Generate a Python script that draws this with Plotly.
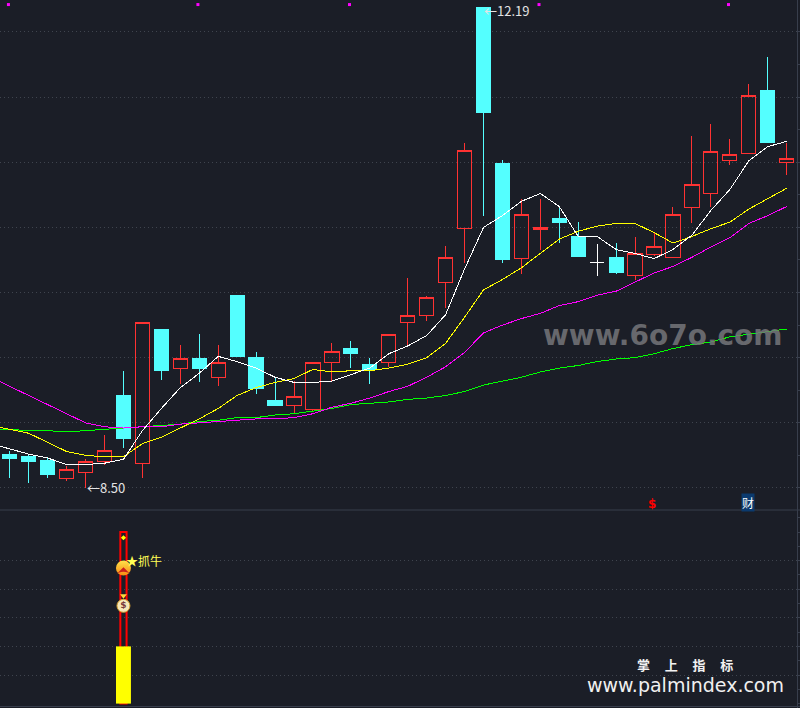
import plotly.graph_objects as go

# Daily candles (index 0..41), prices
opens = [8.76,8.74,8.71,8.57,8.62,8.70,9.21,8.69,9.72,9.42,
         9.49,9.35,9.98,9.50,9.17,9.13,9.10,9.46,9.57,9.45,
         9.46,9.77,9.82,10.08,10.49,12.19,10.99,10.26,10.48,10.57,
         10.43,10.23,10.27,10.13,10.29,10.27,10.65,10.76,11.01,11.07,11.55,11.00]
closes = [8.73,8.70,8.60,8.64,8.70,8.79,8.88,9.77,9.40,9.49,
          9.42,9.46,9.51,9.26,9.13,9.20,9.46,9.55,9.53,9.41,
          9.68,9.82,9.96,10.27,11.09,11.38,10.25,10.60,10.50,10.54,
          10.28,10.23,10.15,10.30,10.35,10.60,10.83,11.08,11.06,11.51,11.15,11.03]
highs = [8.78,8.76,8.73,8.67,8.72,8.91,9.40,9.77,9.72,9.60,
         9.68,9.60,9.98,9.54,9.35,9.32,9.47,9.61,9.63,9.50,
         9.68,10.11,9.97,10.36,11.15,12.19,11.02,10.72,10.72,10.66,
         10.54,10.37,10.38,10.43,10.46,10.66,11.20,11.29,11.18,11.60,11.81,11.15]
lows = [8.58,8.54,8.58,8.55,8.50,8.68,8.81,8.58,9.33,9.30,
        9.31,9.28,9.51,9.22,9.13,9.07,9.08,9.32,9.42,9.30,
        9.43,9.60,9.78,9.88,10.23,10.59,10.23,10.14,10.33,10.38,
        10.27,10.13,10.14,10.10,10.28,10.27,10.53,10.66,10.98,11.07,11.15,10.90]

# Moving averages, index -1..41
ma5 = [8.84,8.80,8.76,8.73,8.68,8.68,8.69,8.72,8.94,9.11,9.27,
       9.38,9.51,9.47,9.42,9.35,9.31,9.31,9.32,9.37,9.42,
       9.53,9.59,9.67,9.83,10.18,10.50,10.59,10.70,10.76,10.66,
       10.43,10.43,10.33,10.30,10.26,10.33,10.44,10.63,10.79,11.01,11.12,11.16]
ma10 = [8.98,8.95,8.92,8.85,8.78,8.75,8.74,8.74,8.84,8.89,8.96,
        9.03,9.11,9.21,9.27,9.31,9.34,9.41,9.39,9.40,9.40,
        9.42,9.45,9.50,9.61,9.81,10.02,10.10,10.19,10.30,10.41,
        10.47,10.51,10.53,10.53,10.46,10.38,10.43,10.49,10.54,10.64,10.72,10.80]
ma20 = [9.35,9.28,9.21,9.14,9.07,9.00,8.97,8.96,8.97,8.97,8.99,
        9.00,9.01,9.02,9.03,9.03,9.04,9.07,9.12,9.15,9.19,
        9.24,9.28,9.35,9.43,9.54,9.69,9.75,9.80,9.84,9.90,
        9.93,9.98,10.01,10.08,10.15,10.20,10.27,10.35,10.42,10.53,10.59,10.66]
ma60 = [8.95,8.95,8.94,8.94,8.93,8.94,8.95,8.96,8.97,8.98,8.99,
        9.01,9.02,9.04,9.04,9.06,9.07,9.09,9.11,9.14,9.15,
        9.16,9.18,9.19,9.21,9.24,9.29,9.32,9.35,9.39,9.42,
        9.44,9.47,9.49,9.50,9.53,9.57,9.60,9.62,9.66,9.68,9.70,9.72]

marker_days = [0, 10, 18, 28, 38]
signal_day = 6
signal_outer = 6.0
signal_inner = 2.0
signal_dot = 5.8
signal_arrow = 4.74
signal_bag = 3.45
signal_label = "★抓牛"
low_label = "←8.50"
high_label = "←12.19"

BG = "#1b1e27"
GRID = "#3f444e"
AXIS = "#383e4c"
RED = "#ff3232"
CYAN = "#54ffff"
days = list(range(len(opens)))
ma_days = list(range(-1, len(opens)))
doji = [i for i in days if opens[i] == closes[i]]
body = [i for i in days if opens[i] != closes[i]]

fig = go.Figure()
pick = lambda arr, idx: [arr[i] for i in idx]
fig.add_trace(go.Candlestick(
    x=body, open=pick(opens, body), high=pick(highs, body), low=pick(lows, body), close=pick(closes, body),
    whiskerwidth=0,
    increasing=dict(line=dict(color=RED, width=1), fillcolor="rgba(0,0,0,0)"),
    decreasing=dict(line=dict(color=CYAN, width=1), fillcolor=CYAN),
    showlegend=False, xaxis="x", yaxis="y"))
fig.add_trace(go.Candlestick(
    x=doji, open=pick(opens, doji), high=pick(highs, doji), low=pick(lows, doji), close=pick(closes, doji),
    whiskerwidth=0,
    increasing=dict(line=dict(color="#ffffff", width=1), fillcolor="#ffffff"),
    decreasing=dict(line=dict(color="#ffffff", width=1), fillcolor="#ffffff"),
    showlegend=False, xaxis="x", yaxis="y"))

for arr, col in [(ma60, "#00ff00"), (ma20, "#ff00ff"), (ma10, "#ffff00"), (ma5, "#ffffff")]:
    fig.add_trace(go.Scatter(x=ma_days, y=arr, mode="lines", line=dict(color=col, width=1),
                             showlegend=False, hoverinfo="skip", xaxis="x", yaxis="y"))

fig.add_trace(go.Scatter(x=[d - 0.07 for d in marker_days], y=[12.21] * len(marker_days), mode="markers",
                         marker=dict(symbol="square", size=3, color="#ff00ff", line=dict(width=0)),
                         showlegend=False, xaxis="x", yaxis="y"))

# lower panel
fig.add_trace(go.Bar(x=[signal_day], y=[signal_outer], width=0.33,
                     marker=dict(color="rgba(0,0,0,0)", line=dict(color="#ff0000", width=2)),
                     showlegend=False, xaxis="x2", yaxis="y2"))
fig.add_trace(go.Bar(x=[signal_day], y=[signal_inner], width=0.79,
                     marker=dict(color="#ffff00", line=dict(width=0)),
                     showlegend=False, xaxis="x2", yaxis="y2"))
fig.add_trace(go.Scatter(x=[signal_day], y=[signal_dot], mode="markers",
                         marker=dict(symbol="diamond", size=4, color="#ffff00", line=dict(width=0)),
                         showlegend=False, xaxis="x2", yaxis="y2"))
fig.add_trace(go.Scatter(x=[signal_day], y=[signal_arrow], mode="markers",
                         marker=dict(symbol="circle", size=15, color="#ffe24a",
                                     gradient=dict(type="vertical", color="#f78a12"), line=dict(width=0)),
                         showlegend=False, xaxis="x2", yaxis="y2"))
fig.add_trace(go.Scatter(x=[signal_day], y=[signal_arrow + 0.03], mode="markers",
                         marker=dict(symbol="arrow-wide", size=11, color="#c8201c", line=dict(width=0)),
                         showlegend=False, xaxis="x2", yaxis="y2"))
fig.add_trace(go.Scatter(x=[signal_day], y=[signal_bag + 0.32], mode="markers",
                         marker=dict(symbol="triangle-down", size=6, color="#ffd83a", line=dict(width=0)),
                         showlegend=False, xaxis="x2", yaxis="y2"))
fig.add_trace(go.Scatter(x=[signal_day], y=[signal_bag - 0.03], mode="markers+text",
                         marker=dict(symbol="circle", size=13, color="#f6e8b8",
                                     line=dict(color="#d8a030", width=1)),
                         text=["$"], textposition="middle center",
                         textfont=dict(size=9, color="#7a3b3b", family="DejaVu Sans", weight="bold"),
                         showlegend=False, xaxis="x2", yaxis="y2"))

X_RANGE = [-0.515, 41.545]
fig.update_layout(
    width=800, height=708, margin=dict(l=0, r=0, t=0, b=0),
    paper_bgcolor=BG, plot_bgcolor=BG, boxgap=0.25, boxgroupgap=0, barmode="overlay",
    showlegend=False, hovermode=False,
    xaxis=dict(domain=[0, 797 / 800], range=X_RANGE, visible=False, rangeslider=dict(visible=False), anchor="y"),
    xaxis2=dict(domain=[0, 797 / 800], range=X_RANGE, visible=False, anchor="y2"),
    yaxis=dict(domain=[198 / 708, 1], range=[8.331, 12.245], side="right", tick0=8.5, dtick=0.5,
               showgrid=True, gridcolor=GRID, griddash="1px,3px", gridwidth=1, zeroline=False,
               showticklabels=False, ticks="outside", ticklen=3, tickcolor=AXIS, showline=True, linecolor=AXIS,
               minor=dict(dtick=0.25, tick0=8.5, ticks="outside", ticklen=3, tickcolor=AXIS, showgrid=False),
               anchor="x"),
    yaxis2=dict(domain=[0, 198 / 708], range=[-0.154, 6.77], side="right", tickvals=[1, 2, 3, 4, 5],
                showgrid=True, gridcolor=GRID, griddash="1px,3px", gridwidth=1, zeroline=False,
                showticklabels=False, ticks="outside", ticklen=3, tickcolor=AXIS, showline=True, linecolor=AXIS,
                minor=dict(dtick=0.5, tick0=0, ticks="outside", ticklen=3, tickcolor=AXIS, showgrid=False),
                anchor="x2"),
    shapes=[
        dict(type="line", xref="paper", yref="paper", x0=0, x1=1, y0=198 / 708, y1=198 / 708,
             line=dict(color=AXIS, width=1)),
        dict(type="line", xref="paper", yref="paper", x0=0, x1=1, y0=1.5 / 708, y1=1.5 / 708,
             line=dict(color=AXIS, width=1)),
    ],
)

CJK = "Noto Sans CJK SC"
def note(text, x, y, xref="paper", yref="paper", size=12, color="#ffffff", family=CJK, xanchor="center", **kw):
    fig.add_annotation(text=text, x=x, y=y, xref=xref, yref=yref, showarrow=False,
                       xanchor=xanchor, yanchor="middle",
                       font=dict(size=size, color=color, family=family), borderpad=0, **kw)

note(low_label, 4, 8.50, xref="x", yref="y", color="#e4e4e4", xanchor="left", size=13)
note(high_label, 25, 12.165, xref="x", yref="y", color="#e4e4e4", xanchor="left", size=13)
note(signal_label, signal_day, 5.0, xref="x2", yref="y2", color="#ffff55", xanchor="left", size=12, xshift=2)
note("$", 34, 8.378, xref="x", yref="y", color="#ff0000", size=12, family="DejaVu Sans", xshift=-2)
fig.layout.annotations[-1].font.weight = "bold"
note("财", 39, 8.385, xref="x", yref="y", color="#ffffff", size=12, bgcolor="#0b3a6e", xshift=-1)
note("www.6o7o.com", 663 / 800, 1 - 335 / 708, size=28, color="rgba(118,118,122,0.85)", family="DejaVu Sans")
fig.layout.annotations[-1].font.weight = "bold"
gap = "\u00a0" * 5
note(gap.join("掌上指标"), 685 / 800, 1 - 664 / 708, size=13, color="#f2f2f2")
fig.layout.annotations[-1].font.weight = "bold"
note("www.palmindex.com", 685 / 800, 1 - 684.5 / 708, size=19, color="#f0f0f0", family="DejaVu Sans")

css = (".boxlayer path, .js-line { shape-rendering: crispEdges !important; }")
fig.write_html("out.html", config={"displayModeBar": False},
               post_script="document.body.style.margin='0';"
                           "var s=document.createElement('style');s.textContent=%r;document.head.appendChild(s);" % css)
